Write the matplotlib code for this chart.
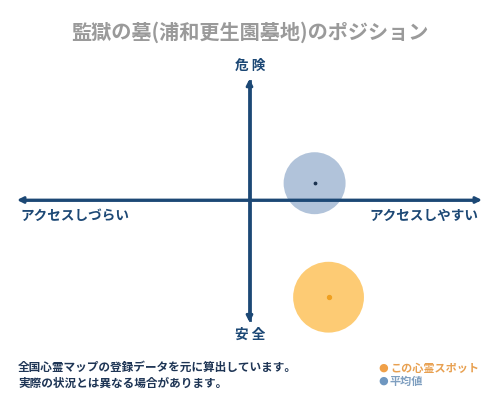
import matplotlib
matplotlib.use('Agg')
import matplotlib.pyplot as plt

plt.rcParams['font.family'] = ['Noto Sans CJK JP', 'DejaVu Sans']

# データ（横: アクセス, 縦: 危険度）
title = '監獄の墓(浦和更生園墓地)のポジション'
axis_labels = {'top': '危 険', 'bottom': '安 全',
               'left': 'アクセスしづらい', 'right': 'アクセスしやすい'}
spot_access = [0.34]
spot_danger = [-0.81]
avg_access = [0.28]
avg_danger = [0.14]
note_lines = ['全国心霊マップの登録データを元に算出しています。',
              '実際の状況とは異なる場合があります。']
legend_labels = ['この心霊スポット', '平均値']

navy = '#1c4875'
orange_fill = '#fdc96c'
orange_dot = '#f0a020'
blue_fill = '#a9bdd6'
blue_dot = '#1b3350'

fig = plt.figure(figsize=(5, 4), dpi=100)
ax = fig.add_axes([0.034, 0.2, 0.93, 0.6])
ax.set_xlim(-1, 1)
ax.set_ylim(-1, 1)
ax.axis('off')

# 円
ax.scatter(avg_access, avg_danger, s=1990, color=blue_fill, alpha=0.9,
           edgecolors='none', zorder=3, clip_on=False)
ax.scatter(avg_access, avg_danger, s=3, color=blue_dot, zorder=4, clip_on=False)
ax.scatter(spot_access, spot_danger, s=2600, color=orange_fill, alpha=0.95,
           edgecolors='none', zorder=3, clip_on=False)
ax.scatter(spot_access, spot_danger, s=8, color=orange_dot, zorder=4, clip_on=False)

# 軸（両端矢印）、円より手前に描く
ax.plot([-0.98, 0.98], [0, 0], color=navy, lw=2, zorder=6, clip_on=False)
ax.plot([0, 0], [-1.0, 0.99], color=navy, lw=2, zorder=6, clip_on=False)
arrow = dict(arrowstyle='-|>', color=navy, lw=2, mutation_scale=9,
             shrinkA=0, shrinkB=0)
for tip in [(1, 0), (-1, 0), (0, 1.01), (0, -1.02)]:
    ann = ax.annotate('', xy=tip, xytext=(0, 0), arrowprops=arrow,
                      annotation_clip=False)
    ann.set_zorder(6)

# 軸ラベル
lab = dict(color=navy, fontsize=9.8, fontweight='bold')
fig.text(0.5, 1 - 66 / 400, axis_labels['top'], ha='center', va='center', **lab)
fig.text(0.5, 1 - 335 / 400, axis_labels['bottom'], ha='center', va='center', **lab)
fig.text(20 / 500, 1 - 216 / 400, axis_labels['left'], ha='left', va='center', **lab)
fig.text(478 / 500, 1 - 216 / 400, axis_labels['right'], ha='right', va='center', **lab)

# タイトル
fig.text(0.5, 1 - 32 / 400, title, ha='center', va='center',
         color='#9a9a9a', fontsize=14.5, fontweight='bold')

# 注記
for i, line in enumerate(note_lines):
    fig.text(18 / 500, 1 - (367 + i * 16) / 400, line, ha='left', va='center',
             color='#1e3555', fontsize=8.4, fontweight='bold')

# 凡例
leg_colors = ['#f0a048', '#6f97c0']
leg_text_colors = ['#e8a050', '#7f9fc0']
for i, (t, c, tc) in enumerate(zip(legend_labels, leg_colors, leg_text_colors)):
    y = 1 - (368 + i * 13) / 400
    fig.text(383 / 500, y, '●', ha='center', va='center', color=c, fontsize=8,
             family=['DejaVu Sans'])
    fig.text(390 / 500, y, t, ha='left', va='center', color=tc, fontsize=8,
             fontweight='bold')

fig.savefig('out.png', dpi=100)
